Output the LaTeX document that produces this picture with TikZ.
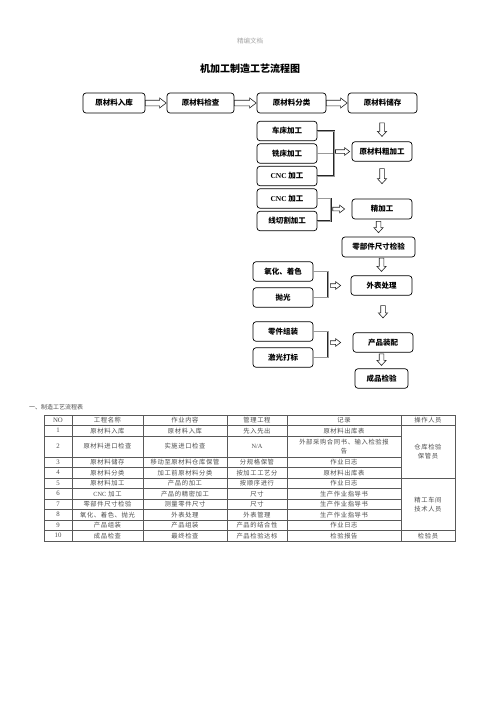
\documentclass[tikz,border=0pt]{standalone}
\usepackage{fontspec}
\setmainfont{Liberation Serif}
\newfontfamily\cjk{Noto Sans CJK SC}
\newfontfamily\tbl[LetterSpace=10]{Noto Sans CJK SC}
\usetikzlibrary{calc}
\newcommand\lat[1]{{\rmfamily #1}}
\newcommand\NA{{\rmfamily N/A}}
\tikzset{
  box/.style={draw=black, line width=0.7pt, rounded corners=3pt, fill=white, inner sep=0pt,
    font=\cjk\bfseries\fontsize{7.5}{9}\selectfont},
  conn/.style={draw=black!85, line width=0.55pt, double=black!40, double distance=0.7pt},
  arrowstyle/.style={draw=black!85, line width=0.6pt, fill=white},
  harr/.style n args={5}{to path={let \p1=(\tikztostart),\p2=(\tikztotarget) in
    (\x1+#1,\y2+#3) -- (\x2-#2-#5,\y2+#3) -- (\x2-#2-#5,\y2+#4) -- (\x2-#2,\y2)
    -- (\x2-#2-#5,\y2-#4) -- (\x2-#2-#5,\y2-#3) -- (\x1+#1,\y2-#3) -- cycle}},
  varr/.style 2 args={to path={let \p1=(\tikztostart),\p2=(\tikztotarget) in
    (\x2-2.3pt,\y1-#1) -- (\x2-2.3pt,\y2+#2+5pt) -- (\x2-4.6pt,\y2+#2+5pt) -- (\x2,\y2+#2)
    -- (\x2+4.6pt,\y2+#2+5pt) -- (\x2+2.3pt,\y2+#2+5pt) -- (\x2+2.3pt,\y1-#1) -- cycle}},
  cell/.style={font=\tbl\fontsize{6.3}{9}\selectfont, text=black!70, inner sep=0pt, align=center},
  num/.style={font=\rmfamily\fontsize{6.8}{8}\selectfont, text=black!70, inner sep=0pt},
  grid/.style={draw=black!65, line width=0.5pt},
}
\begin{document}
\begin{tikzpicture}[x=1pt,y=-1pt]
\useasboundingbox (0,0) rectangle (500,707);
\fill[white] (0,0) rectangle (500,707);

% header texts
\node[font=\cjk\fontsize{6.5}{7}\selectfont, text=black!35] (wm) at (250,41) {精编文档};
\node[font=\cjk\bfseries\fontsize{10}{12}\selectfont] (title) at (250,69) {机加工制造工艺流程图};

% flowchart boxes
\node[box, minimum width=62, minimum height=20] (A1) at (114,103) {原材料入库};
\node[box, minimum width=67, minimum height=20] (A2) at (200.5,103) {原材料检查};
\node[box, minimum width=69, minimum height=20] (A3) at (291.5,103) {原材料分类};
\node[box, minimum width=69, minimum height=20] (A4) at (382.5,103) {原材料储存};

\node[box, minimum width=60, minimum height=19.5] (L1) at (287,131) {车床加工};
\node[box, minimum width=60, minimum height=19.5] (L2) at (287,153.5) {铣床加工};
\node[box, minimum width=60, minimum height=19.5] (L3) at (287,176) {\lat{CNC} 加工};
\node[box, minimum width=60, minimum height=19.5] (L4) at (287,198.5) {\lat{CNC} 加工};
\node[box, minimum width=60, minimum height=19.5] (L5) at (287,221) {线切割加工};

\node[box, minimum width=60, minimum height=19.5] (R1) at (382,151.5) {原材料粗加工};
\node[box, minimum width=60, minimum height=20] (R2) at (382,209) {精加工};
\node[box, minimum width=73, minimum height=20] (R3) at (378.5,247) {零部件尺寸检验};

\node[box, minimum width=60, minimum height=19.5] (L6) at (283,271.5) {氧化、着色};
\node[box, minimum width=60, minimum height=19.5] (L7) at (283,297.5) {抛光};
\node[box, minimum width=61, minimum height=19.5] (R4) at (381.5,285.5) {外表处理};

\node[box, minimum width=60, minimum height=19.5] (L8) at (283,331.5) {零件组装};
\node[box, minimum width=60, minimum height=19.5] (L9) at (283,357.5) {激光打标};
\node[box, minimum width=60, minimum height=19.5] (R5) at (383,342.5) {产品装配};
\node[box, minimum width=53, minimum height=19.5] (R6) at (381.5,378.5) {成品检验};

% row 1 arrows
\draw[arrowstyle] (A1.east) to[harr={0pt}{0.5pt}{2.8pt}{5pt}{6.5pt}] (A2.west);
\draw[arrowstyle] (A2.east) to[harr={0pt}{0.5pt}{2.8pt}{5pt}{6.5pt}] (A3.west);
\draw[arrowstyle] (A3.east) to[harr={0pt}{0.5pt}{2.8pt}{5pt}{6.5pt}] (A4.west);

% down arrows
\draw[arrowstyle] (A4.south) to[varr={9.5pt}{5pt}] (R1.north);
\draw[arrowstyle] (R1.south) to[varr={7pt}{15pt}] (R2.north);
\draw[arrowstyle] (R2.south) to[varr={2pt}{4pt}] (R3.north);
\draw[arrowstyle] (R3.south) to[varr={0.8pt}{4pt}] (R4.north);
\draw[arrowstyle] (R4.south) to[varr={10pt}{14.5pt}] (R5.north);
\draw[arrowstyle] (R5.south) to[varr={1.3pt}{3pt}] (R6.north);

% bracket bars
\coordinate (gx1) at (334,0);
\coordinate (gx2) at (330.7,0);
\coordinate (gx3) at (328.3,0);
\coordinate (gx4) at (328.3,0);

\draw[conn] (L2.east) -- (L2.east -| gx1);
\draw[conn] (L1.east) -- (L1.east -| gx1) -- (L3.east -| gx1) -- (L3.east);
\draw[arrowstyle] (R1.west -| gx1) to[harr={1.5pt}{2pt}{1.8pt}{3.8pt}{5pt}] (R1.west);

\draw[conn] (L4.east) -- (L4.east -| gx2) -- (L5.east -| gx2) -- (L5.east);
\draw[arrowstyle] (R2.west -| gx2) to[harr={2pt}{7pt}{1.8pt}{3.8pt}{5pt}] (R2.west);

\draw[conn] (L6.east) -- (L6.east -| gx3) -- (L7.east -| gx3) -- (L7.east);
\draw[arrowstyle] (R4.west -| gx3) to[harr={2pt}{10pt}{1.8pt}{3.8pt}{5pt}] (R4.west);

\draw[conn] (L8.east) -- (L8.east -| gx4) -- (L9.east -| gx4) -- (L9.east);
\draw[arrowstyle] (R5.west -| gx4) to[harr={2pt}{12pt}{1.8pt}{3.8pt}{5pt}] (R5.west);

% table
\node[cell, anchor=west, font=\cjk\fontsize{6}{7}\selectfont] (ttl) at (29,407.5) {一、制造工艺流程表};

\draw[grid] (44,415) rectangle (455,541);
\foreach \xx in {72,143,227,287,401}{ \draw[grid] (\xx,415) -- (\xx,541); }
\foreach \yy in {425.5,478,530.5}{ \draw[grid] (44,\yy) -- (455,\yy); }
\foreach \yy in {436,457,467.5,488.5,499,509.5,520}{ \draw[grid] (44,\yy) -- (401,\yy); }

\foreach \n/\yy/\a/\b/\c/\d in {
  NO/420.25/工程名称/作业内容/管理工程/记录,
  1/430.75/原材料入库/原材料入库/先入先出/原材料出库表,
  2/446.5/原材料进口检查/实施进口检查/\NA/{外部采购合同书、输入检验报\\告},
  3/462.25/原材料储存/移动至原材料仓库保管/分规格保管/作业日志,
  4/472.75/原材料分类/加工前原材料分类/按加工工艺分/原材料出库表,
  5/483.25/原材料加工/产品的加工/按顺序进行/作业日志,
  6/493.75/\lat{CNC} 加工/产品的精密加工/尺寸/生产作业指导书,
  7/504.25/零部件尺寸检验/测量零件尺寸/尺寸/生产作业指导书,
  8/514.75/氧化、着色、抛光/外表处理/外表管理/生产作业指导书,
  9/525.25/产品组装/产品组装/产品的结合性/作业日志,
  10/535.75/成品检查/最终检查/产品检验达标/检验报告}{
  \node[num] (c\n-0) at (58,\yy) {\n};
  \node[cell] (c\n-1) at (107.5,\yy) {\a};
  \node[cell] (c\n-2) at (185,\yy) {\b};
  \node[cell] (c\n-3) at (257,\yy) {\c};
  \node[cell] (c\n-4) at (344,\yy) {\d};
}
\node[cell] (op0) at (428,420.25) {操作人员};
\node[cell] (op1) at (428,451.5) {仓库检验\\保管员};
\node[cell] (op2) at (428,504.25) {精工车间\\技术人员};
\node[cell] (op3) at (428,535.75) {检验员};
\end{tikzpicture}
\end{document}
